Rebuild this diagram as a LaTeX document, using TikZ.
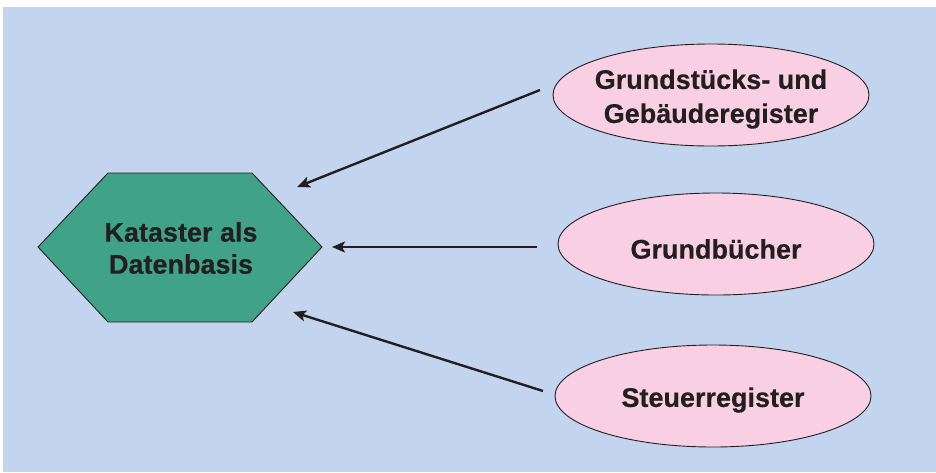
\documentclass[tikz,border=0pt]{standalone}
\usepackage{fontspec}
\setmainfont{Liberation Sans}[BoldFeatures={FakeBold=0.5}]
\usetikzlibrary{shapes.geometric,arrows.meta}
\definecolor{bgblue}{HTML}{C3D5EE}
\definecolor{hexgreen}{HTML}{40A287}
\definecolor{pinkfill}{HTML}{F9D0E3}
\definecolor{ink}{HTML}{231F20}
\tikzset{
  reg/.style={ellipse, draw=ink, line width=0.9pt, fill=pinkfill, minimum width=316pt, minimum height=102pt, inner sep=0pt},
  arr/.style={draw=ink, line width=2.4pt, -{Stealth[length=13pt,width=11pt,inset=3pt]}},
  lbl/.style={align=center, font=\fontsize{27}{34}\selectfont\bfseries, text=ink},
  hexlbl/.style={align=center, font=\fontsize{27}{32}\selectfont\bfseries, text=ink}
}
\begin{document}
\begin{tikzpicture}[x=1pt,y=-1pt]
\useasboundingbox (0,0) rectangle (936,472);
\fill[bgblue] (3,7) rectangle (936,472);
\draw[draw=ink, line width=0.9pt, fill=hexgreen] (38,247) -- (108,173) -- (252,173) -- (322,247) -- (252,322) -- (108,322) -- cycle;
\node[hexlbl] (kat) at (181,248) {Kataster als\\Datenbasis};
\node[reg, label={[lbl, yshift=-4pt]center:{Grundstücks- und\\Gebäuderegister}}] (g1) at (711,95) {};
\node[reg, label={[lbl, yshift=-5pt]center:Grundbücher}] (g2) at (716,244) {};
\node[reg, label={[lbl, yshift=-4pt]center:Steuerregister}] (g3) at (713,396) {};
\coordinate (s1) at (540,90);
\coordinate (t1) at (297,187);
\coordinate (s2) at (537,247);
\coordinate (t2) at (332,247);
\coordinate (s3) at (543,391);
\coordinate (t3) at (293,312);
\draw[arr] (s1) -- (t1);
\draw[arr] (s2) -- (t2);
\draw[arr] (s3) -- (t3);
\end{tikzpicture}
\end{document}
